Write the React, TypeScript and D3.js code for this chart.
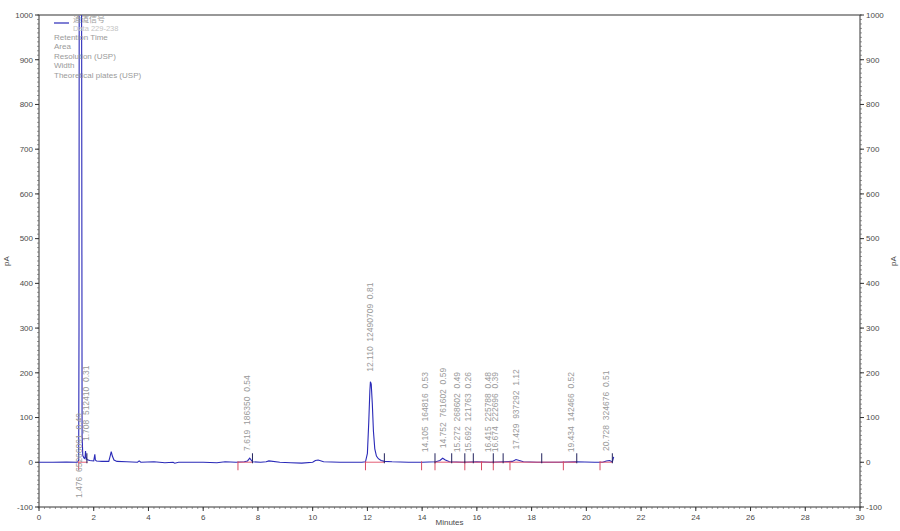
import * as d3 from "d3";

const width = 900;
const height = 531;
const margin = { top: 15, right: 40, bottom: 24, left: 39 };

// chromatogram trace (minutes, pA)
const rtTime = [
  0, 0.5, 1.0, 1.4, 1.45, 1.462, 1.472, 1.5, 1.54, 1.56, 1.575, 1.6, 1.64, 1.68, 1.7, 1.72, 1.75,
  1.85, 2.0, 2.04, 2.06, 2.1, 2.3, 2.55, 2.6, 2.64, 2.68, 2.74, 2.85, 3.2, 3.6, 3.66, 3.72,
  4.2, 4.6, 4.9, 4.96, 5.1, 6.0, 6.5, 6.8, 7.2, 7.5, 7.62, 7.7, 7.8, 8.1, 8.3, 8.4, 8.8,
  9.2, 9.6, 10.0, 10.1, 10.2, 10.4, 11.0, 11.8, 11.93, 12.0, 12.05, 12.09, 12.11, 12.14,
  12.18, 12.22, 12.27, 12.33, 12.4, 12.5, 12.62, 12.9, 13.5, 14.0, 14.5, 14.65, 14.75,
  14.85, 15.0, 15.5, 16.0, 16.5, 17.0, 17.3, 17.43, 17.55, 17.7, 18.2, 19.0, 19.6, 20.3,
  20.6, 20.73, 20.85, 20.92, 20.95, 21.0,
];
const rtSignal = [
  0, 0, 0.5, 0, 5, 300, 1400, 1450, 1400, 900, 60, 15, 10, 8, 25, 12, 6,
  4, 3, 18, 5, 3, 2, 2, 14, 24, 14, 5, 2, 1, 0, 3, 0,
  1, -1, 0, -2, 0, 0, -1, 1, 0, 1, 3, 9, 1, 0, 1, 3, 0,
  -1, -2, 0, 4, 5, 1, 0, 0, 1, 20, 90, 160, 180, 175,
  130, 70, 30, 14, 8, 4, 2, 1, 0, 0, 1, 4, 9,
  5, 1, 0, 1, 0, 1, 2, 6, 4, 1, 0, 0, 1, 0,
  0, 3, 4, 2, 1, 12,
];

// peak table
const peakTimes = [1.476, 1.708, 7.619, 12.11, 14.105, 14.752, 15.272, 15.692, 16.415, 16.674, 17.429, 19.434, 20.728];
const peakAreas = [65266091, 512410, 186350, 12490709, 164816, 761602, 268602, 121763, 225788, 222696, 937292, 142466, 324676];
const peakResolutions = ["0.49", "0.31", "0.54", "0.81", "0.53", "0.59", "0.49", "0.26", "0.48", "0.39", "1.12", "0.52", "0.51"];

// integration baselines and peak marks
const baseStarts = [1.45, 7.27, 11.93, 14.47, 17.87, 20.5];
const baseEnds = [1.78, 7.8, 12.62, 17.87, 19.65, 20.95];
const startMarks = [1.45, 7.27, 11.93, 13.98, 14.47, 15.56, 16.17, 16.6, 17.21, 19.16, 20.5];
const endMarks = [1.75, 7.8, 12.62, 14.47, 15.08, 15.56, 15.87, 16.6, 16.96, 18.37, 19.65, 20.95];

const legendTitle = ["通道信号", "Data 229-238"];
const legendLines = ["Retention Time", "Area", "Resolution (USP)", "Width", "Theoretical plates (USP)"];

const font = "'Liberation Sans', Arial, sans-serif";
const traceColor = "#2a2ab8";
const labelColor = "#9a9a9a";
const axisText = "#4a4a4a";

export default function App() {
  const x = d3.scaleLinear([0, 30], [margin.left, width - margin.right]);
  const y = d3.scaleLinear([-100, 1000], [height - margin.bottom, margin.top]);

  const pts = rtTime.map((t, i) => [t, rtSignal[i]] as [number, number]);
  const line = d3
    .line<[number, number]>()
    .x((d) => x(d[0]))
    .y((d) => y(d[1]));

  // apex height near a retention time, used to place its label
  const peakHeight = (pt: number) =>
    d3.max(pts.filter((d) => Math.abs(d[0] - pt) < 0.06), (d) => d[1]) ?? 0;

  const xMinor = d3.range(0, 30.001, 0.2);
  const yMinor = d3.range(-100, 1000.001, 10);

  return (
    <svg
      width={width}
      height={height}
      style={{ position: "absolute", left: 0, top: 0, background: "#fff" }}
      fontFamily={font}
    >
      <defs>
        <clipPath id="plot">
          <rect x={x(0)} y={y(1000)} width={x(30) - x(0)} height={y(-100) - y(1000)} />
        </clipPath>
      </defs>

      {/* frame */}
      <rect
        x={x(0)}
        y={y(1000)}
        width={x(30) - x(0)}
        height={y(-100) - y(1000)}
        fill="none"
        stroke="#333"
        strokeWidth={1}
      />

      {/* x axis */}
      {xMinor.map((t) => (
        <line key={"xm" + t} x1={x(t)} x2={x(t)} y1={y(-100)} y2={y(-100) + 2} stroke="#555" strokeWidth={0.6} />
      ))}
      {x.ticks(15).map((t) => (
        <g key={"xt" + t}>
          <line x1={x(t)} x2={x(t)} y1={y(-100)} y2={y(-100) + 4} stroke="#333" />
          <text x={x(t)} y={y(-100) + 13} fontSize={8} fill={axisText} textAnchor="middle">
            {t}
          </text>
        </g>
      ))}
      <text x={(x(0) + x(30)) / 2} y={height - 6} fontSize={8} fill={axisText} textAnchor="middle">
        Minutes
      </text>

      {/* y axes, both sides */}
      {yMinor.map((v) => (
        <g key={"ym" + v}>
          <line x1={x(0) - 2} x2={x(0)} y1={y(v)} y2={y(v)} stroke="#555" strokeWidth={0.6} />
          <line x1={x(30)} x2={x(30) + 2} y1={y(v)} y2={y(v)} stroke="#555" strokeWidth={0.6} />
        </g>
      ))}
      {y.ticks(11).map((v) => (
        <g key={"yt" + v}>
          <line x1={x(0) - 4} x2={x(0)} y1={y(v)} y2={y(v)} stroke="#333" />
          <line x1={x(30)} x2={x(30) + 4} y1={y(v)} y2={y(v)} stroke="#333" />
          <text x={x(0) - 6} y={y(v)} dy="0.35em" fontSize={8} fill={axisText} textAnchor="end">
            {v}
          </text>
          <text x={x(30) + 6} y={y(v)} dy="0.35em" fontSize={8} fill={axisText} textAnchor="start">
            {v}
          </text>
        </g>
      ))}
      <text transform={`translate(9,${y(450)}) rotate(-90)`} fontSize={8} fill={axisText} textAnchor="middle">
        pA
      </text>
      <text transform={`translate(896,${y(450)}) rotate(-90)`} fontSize={8} fill={axisText} textAnchor="middle">
        pA
      </text>

      {/* trace */}
      <g clipPath="url(#plot)">
        <path d={line(pts) ?? ""} fill="none" stroke={traceColor} strokeWidth={1.1} />
        {baseStarts.map((s, i) => (
          <line
            key={"bl" + i}
            x1={x(s)}
            x2={x(baseEnds[i])}
            y1={y(0)}
            y2={y(0)}
            stroke="#e0506a"
            strokeOpacity={0.65}
            strokeWidth={1.4}
          />
        ))}
        {startMarks.map((t, i) => (
          <line key={"sm" + i} x1={x(t)} x2={x(t)} y1={y(0) - 1} y2={y(0) + 8} stroke="#d84a62" strokeWidth={1} />
        ))}
        {endMarks.map((t, i) => (
          <line key={"em" + i} x1={x(t)} x2={x(t)} y1={y(0) + 1} y2={y(0) - 9} stroke="#23235e" strokeWidth={1} />
        ))}
      </g>

      {/* peak annotations */}
      {peakTimes.map((pt, i) => {
        const h = peakHeight(pt);
        const py = h > 1000 ? y(-80) : y(h) - 10;
        return (
          <text
            key={"pk" + i}
            transform={`translate(${x(pt)},${py}) rotate(-90)`}
            dy="0.35em"
            fontSize={8.5}
            fill={labelColor}
            xmlSpace="preserve"
            style={{ whiteSpace: "pre" }}
          >
            {`${pt.toFixed(3)}  ${peakAreas[i]}  ${peakResolutions[i]}`}
          </text>
        );
      })}

      {/* legend */}
      <line x1={54} x2={69} y1={23} y2={23} stroke={traceColor} strokeWidth={1.2} />
      <text x={73} y={22} fontSize={8} fill={labelColor} fontFamily="'Noto Sans CJK SC', sans-serif">
        {legendTitle[0]}
      </text>
      <text x={73} y={31} fontSize={7.5} fill="#c4c4c4">
        {legendTitle[1]}
      </text>
      {legendLines.map((s, i) => (
        <text key={s} x={54} y={40 + i * 9.4} fontSize={8} fill={labelColor}>
          {s}
        </text>
      ))}
    </svg>
  );
}
